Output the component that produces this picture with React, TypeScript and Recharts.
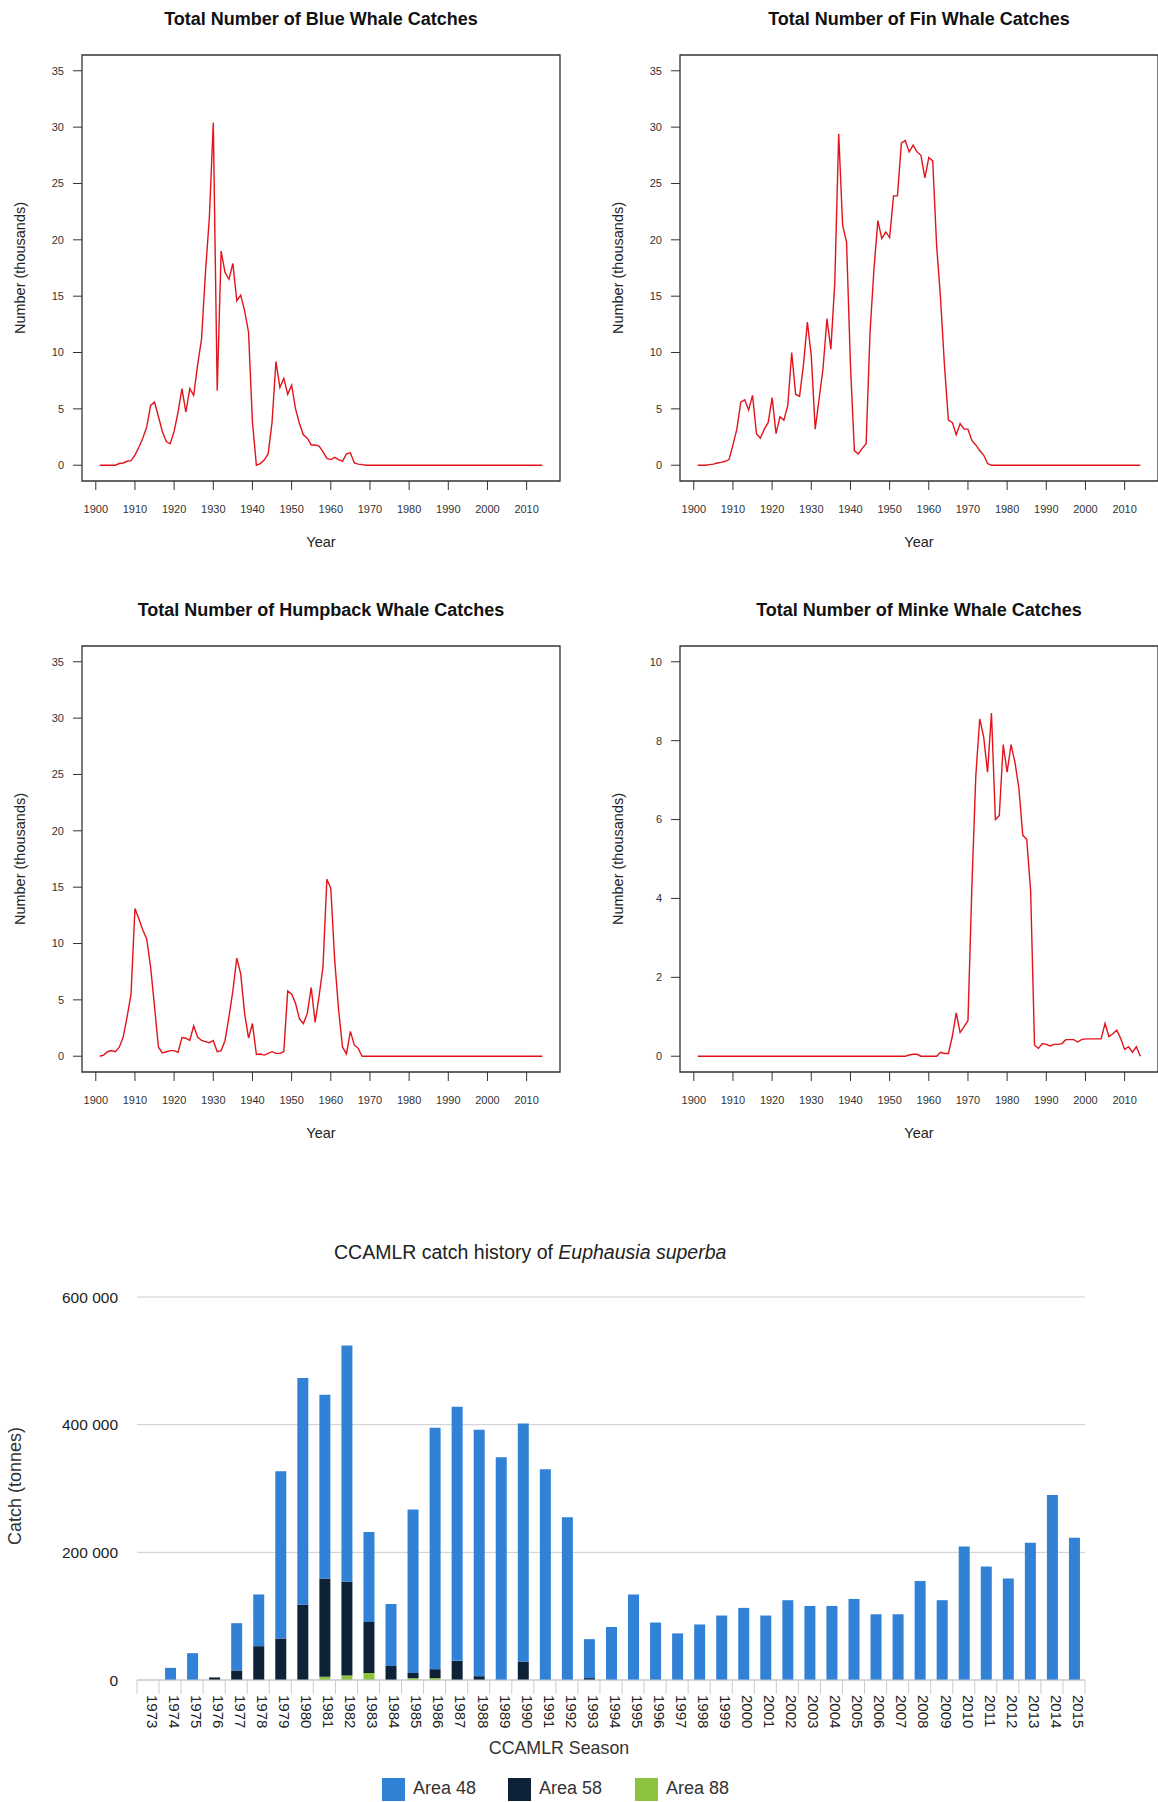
import { Bar, BarChart, CartesianGrid, Line, LineChart, ReferenceArea, XAxis, YAxis } from 'recharts'

// whale catches, thousands, one value per year starting 1901 (to 2014)
const FIRST_YEAR = 1901

const blueCatch = [
  0, 0, 0, 0, 0, 0.15, 0.2, 0.35, 0.4, 0.9,
  1.6, 2.4, 3.4, 5.3, 5.6, 4.3, 3.0, 2.1, 1.9, 3.0,
  4.7, 6.8, 4.7, 6.8, 6.2, 8.9, 11.2, 17.1, 22.0, 30.4,
  6.6, 19.0, 17.1, 16.5, 17.9, 14.6, 15.1, 13.7, 11.8, 3.8,
  0, 0.15, 0.45, 1.0, 3.8, 9.2, 6.9, 7.7, 6.3, 7.1,
  5.0, 3.7, 2.7, 2.4, 1.8, 1.8, 1.7, 1.2, 0.6, 0.5,
  0.7, 0.5, 0.35, 1.0, 1.1, 0.2, 0.1, 0.05, 0, 0,
  0, 0, 0, 0, 0, 0, 0, 0, 0, 0,
  0, 0, 0, 0, 0, 0, 0, 0, 0, 0,
  0, 0, 0, 0, 0, 0, 0, 0, 0, 0,
  0, 0, 0, 0, 0, 0, 0, 0, 0, 0,
  0, 0, 0, 0,
]

const finCatch = [
  0, 0, 0, 0.05, 0.1, 0.2, 0.25, 0.35, 0.5, 1.8,
  3.2, 5.6, 5.8, 4.9, 6.2, 2.8, 2.4, 3.2, 3.8, 6.0,
  2.8, 4.3, 4.0, 5.3, 10.0, 6.3, 6.1, 8.9, 12.7, 9.7,
  3.2, 5.9, 8.6, 13.0, 10.3, 16.2, 29.4, 21.3, 19.8, 8.9,
  1.3, 1.0, 1.5, 1.9, 11.8, 17.4, 21.7, 20.1, 20.7, 20.2,
  23.9, 23.9, 28.6, 28.8, 27.8, 28.4, 27.8, 27.5, 25.5, 27.3,
  27.0, 19.5, 14.8, 8.9, 4.0, 3.8, 2.7, 3.7, 3.2, 3.2,
  2.2, 1.8, 1.3, 0.9, 0.15, 0, 0, 0, 0, 0,
  0, 0, 0, 0, 0, 0, 0, 0, 0, 0,
  0, 0, 0, 0, 0, 0, 0, 0, 0, 0,
  0, 0, 0, 0, 0, 0, 0, 0, 0, 0,
  0, 0, 0, 0,
]

const humpbackCatch = [
  0, 0.1, 0.4, 0.5, 0.4, 0.8, 1.7, 3.5, 5.5, 13.1,
  12.2, 11.2, 10.4, 7.9, 4.4, 0.8, 0.3, 0.4, 0.5, 0.5,
  0.35, 1.65, 1.6, 1.4, 2.7, 1.7, 1.4, 1.3, 1.2, 1.4,
  0.4, 0.5, 1.4, 3.5, 5.8, 8.7, 7.3, 3.8, 1.6, 2.9,
  0.15, 0.2, 0.1, 0.25, 0.4, 0.25, 0.25, 0.4, 5.8, 5.5,
  4.7, 3.3, 2.9, 3.8, 6.1, 3.0, 5.3, 7.9, 15.7, 14.9,
  8.5, 4.1, 0.8, 0.2, 2.2, 1.0, 0.7, 0, 0, 0,
  0, 0, 0, 0, 0, 0, 0, 0, 0, 0,
  0, 0, 0, 0, 0, 0, 0, 0, 0, 0,
  0, 0, 0, 0, 0, 0, 0, 0, 0, 0,
  0, 0, 0, 0, 0, 0, 0, 0, 0, 0,
  0, 0, 0, 0,
]

const minkeCatch = [
  0, 0, 0, 0, 0, 0, 0, 0, 0, 0,
  0, 0, 0, 0, 0, 0, 0, 0, 0, 0,
  0, 0, 0, 0, 0, 0, 0, 0, 0, 0,
  0, 0, 0, 0, 0, 0, 0, 0, 0, 0,
  0, 0, 0, 0, 0, 0, 0, 0, 0, 0,
  0, 0, 0, 0, 0.03, 0.05, 0.05, 0, 0, 0,
  0, 0, 0.1, 0.07, 0.07, 0.5, 1.1, 0.6, 0.75, 0.9,
  4.3, 7.1, 8.55, 8.1, 7.2, 8.7, 6.0, 6.1, 7.9, 7.2,
  7.9, 7.45, 6.8, 5.6, 5.5, 4.2, 0.28, 0.2, 0.32, 0.3,
  0.26, 0.3, 0.3, 0.32, 0.42, 0.42, 0.42, 0.36, 0.42, 0.44,
  0.44, 0.44, 0.44, 0.44, 0.83, 0.5, 0.57, 0.66, 0.45, 0.17,
  0.24, 0.1, 0.24, 0,
]

const decadeTicks = [1900, 1910, 1920, 1930, 1940, 1950, 1960, 1970, 1980, 1990, 2000, 2010]
const bigYTicks = [0, 5, 10, 15, 20, 25, 30, 35]
const minkeYTicks = [0, 2, 4, 6, 8, 10]

// krill, tonnes per CCAMLR season
const seasons = [
  '1973', '1974', '1975', '1976', '1977', '1978', '1979', '1980', '1981', '1982',
  '1983', '1984', '1985', '1986', '1987', '1988', '1989', '1990', '1991', '1992',
  '1993', '1994', '1995', '1996', '1997', '1998', '1999', '2000', '2001', '2002',
  '2003', '2004', '2005', '2006', '2007', '2008', '2009', '2010', '2011', '2012',
  '2013', '2014', '2015',
]
const area48 = [
  0, 19000, 42000, 0, 74000, 81000, 262000, 355000, 288000, 370000,
  141000, 97000, 256000, 378000, 398000, 386000, 349000, 373000, 330000, 255000,
  61000, 83000, 134000, 90000, 73000, 87000, 101000, 113000, 101000, 125000,
  116000, 116000, 127000, 103000, 103000, 155000, 125000, 209000, 178000, 159000,
  215000, 290000, 223000,
]
const area58 = [
  0, 0, 0, 4000, 15000, 53000, 65000, 118000, 154000, 147000,
  80000, 22000, 8000, 14000, 30000, 6000, 0, 29000, 0, 0,
  3000, 0, 0, 0, 0, 0, 0, 0, 0, 0,
  0, 0, 0, 0, 0, 0, 0, 0, 0, 0,
  0, 0, 0,
]
const area88 = [
  0, 0, 0, 0, 0, 0, 0, 0, 5000, 7000,
  11000, 0, 3000, 3000, 0, 0, 0, 0, 0, 0,
  0, 0, 0, 0, 0, 0, 0, 0, 0, 0,
  0, 0, 0, 0, 0, 0, 0, 0, 0, 0,
  0, 0, 0,
]
const krillTicks = [0, 200000, 400000, 600000]

const RED = '#e3131b'
const FONT = '"Liberation Sans", Arial, sans-serif'

const toRows = (vals: number[]) => vals.map((v, i) => ({ year: FIRST_YEAR + i, v }))

const X_DOMAIN: [number, number] = [1896.48, 2018.52]

function WhalePanel({ title, values, yMax, ticks, left, top }: {
  title: string; values: number[]; yMax: number; ticks: number[]; left: number; top: number
}) {
  const pad = yMax * 0.04
  const yDomain: [number, number] = [-pad, yMax + pad]
  const txt = { position: 'absolute' as const, color: '#222', whiteSpace: 'nowrap' as const }
  return (
    <div style={{ position: 'absolute', left, top, width: 580, height: 580 }}>
      <LineChart width={580} height={580} data={toRows(values)} margin={{ top: 55, right: 20, left: 22, bottom: 59 }}>
        <XAxis
          type="number"
          dataKey="year"
          domain={X_DOMAIN}
          ticks={decadeTicks}
          allowDataOverflow
          axisLine={false}
          tickLine={{ stroke: '#333' }}
          tickSize={9}
          tickMargin={15}
          height={40}
          tick={{ fontSize: 11, fill: '#333' }}
        />
        <YAxis
          type="number"
          domain={yDomain}
          ticks={ticks}
          allowDataOverflow
          axisLine={false}
          tickLine={{ stroke: '#333' }}
          tickSize={9}
          tickMargin={9}
          width={60}
          tick={{ fontSize: 11, fill: '#333' }}
        />
        <ReferenceArea
          x1={X_DOMAIN[0]}
          x2={X_DOMAIN[1]}
          y1={yDomain[0]}
          y2={yDomain[1]}
          fill="none"
          stroke="#333"
          strokeWidth={1.3}
          ifOverflow="visible"
        />
        <Line type="linear" dataKey="v" stroke={RED} strokeWidth={1.4} dot={false} isAnimationActive={false} />
      </LineChart>
      <div style={{ ...txt, left: 121, width: 400, top: 9, textAlign: 'center', fontSize: 18, fontWeight: 700, color: '#111' }}>
        {title}
      </div>
      <div style={{ ...txt, left: 121, width: 400, top: 534, textAlign: 'center', fontSize: 14.5 }}>Year</div>
      <div
        style={{
          ...txt, left: 20 - 100, top: 268 - 10, width: 200, height: 20, lineHeight: '20px',
          textAlign: 'center', fontSize: 14.5, transform: 'rotate(-90deg)',
        }}
      >
        Number (thousands)
      </div>
    </div>
  )
}

const PLOT_LEFT = 137
const PLOT_RIGHT = 1085
const STEP = (PLOT_RIGHT - PLOT_LEFT) / seasons.length

function SeasonTick(props: any) {
  const { x, y, payload, index } = props
  const ty = y + 15
  return (
    <g>
      <line x1={x - STEP / 2} x2={x - STEP / 2} y1={y} y2={y + 14} stroke="#c8ccd2" />
      {index === seasons.length - 1 && (
        <line x1={x + STEP / 2} x2={x + STEP / 2} y1={y} y2={y + 14} stroke="#c8ccd2" />
      )}
      <text
        x={x}
        y={ty}
        dy="0.08em"
        transform={`rotate(90, ${x}, ${ty})`}
        textAnchor="start"
        fontSize={15}
        fill="#222"
        fontFamily={FONT}
      >
        {payload.value}
      </text>
    </g>
  )
}

const fmtSpace = (v: number) => String(v).replace(/\B(?=(\d{3})+(?!\d))/g, ' ')

function KrillChart() {
  const rows = seasons.map((s, i) => ({ season: s, a48: area48[i], a58: area58[i], a88: area88[i] }))
  const legend = [
    { name: 'Area 48', color: '#3181d7', x: 382 },
    { name: 'Area 58', color: '#0e2237', x: 508 },
    { name: 'Area 88', color: '#8cc43d', x: 635 },
  ]
  const txt = { position: 'absolute' as const, color: '#222', whiteSpace: 'nowrap' as const }
  return (
    <div style={{ position: 'absolute', left: 0, top: 1220, width: 1158, height: 582 }}>
      <BarChart
        width={1158}
        height={582}
        data={rows}
        margin={{ top: 77, right: 1158 - PLOT_RIGHT, left: 0, bottom: 72 }}
        barSize={11}
      >
        <CartesianGrid vertical={false} stroke="#cccccc" />
        <XAxis
          dataKey="season"
          interval={0}
          tickLine={false}
          tickSize={0}
          tickMargin={0}
          axisLine={{ stroke: '#c3c7cd' }}
          height={50}
          tick={<SeasonTick />}
        />
        <YAxis
          domain={[0, 600000]}
          ticks={krillTicks}
          axisLine={false}
          tickLine={false}
          tickSize={0}
          tickMargin={19}
          width={PLOT_LEFT}
          tickFormatter={fmtSpace}
          tick={{ fontSize: 15.5, fill: '#222' }}
        />
        <Bar dataKey="a88" stackId="k" fill="#8cc43d" isAnimationActive={false} />
        <Bar dataKey="a58" stackId="k" fill="#0e2237" isAnimationActive={false} />
        <Bar dataKey="a48" stackId="k" fill="#3181d7" isAnimationActive={false} />
      </BarChart>
      <div style={{ ...txt, left: 334, top: 20, fontSize: 19.5, lineHeight: '24px' }}>
        CCAMLR catch history of <i>Euphausia superba</i>
      </div>
      <div
        style={{
          ...txt, left: 15 - 100, top: 266 - 12, width: 200, height: 24, lineHeight: '24px',
          textAlign: 'center', fontSize: 18, transform: 'rotate(-90deg)', color: '#333',
        }}
      >
        Catch (tonnes)
      </div>
      <div style={{ ...txt, left: 459, width: 200, top: 516, textAlign: 'center', fontSize: 17.8, lineHeight: '24px', color: '#333' }}>
        CCAMLR Season
      </div>
      {legend.map((l) => (
        <div key={l.name}>
          <div style={{ position: 'absolute', left: l.x, top: 558, width: 23, height: 23, background: l.color }} />
          <div style={{ ...txt, left: l.x + 31, top: 556, fontSize: 18, lineHeight: '24px', color: '#333' }}>{l.name}</div>
        </div>
      ))}
    </div>
  )
}

export default function App() {
  return (
    <div
      style={{
        position: 'absolute', left: 0, top: 0, width: 1158, height: 1802, overflow: 'hidden',
        background: '#fff', fontFamily: FONT,
      }}
    >
      <WhalePanel title="Total Number of Blue Whale Catches" values={blueCatch} yMax={35} ticks={bigYTicks} left={0} top={0} />
      <WhalePanel title="Total Number of Fin Whale Catches" values={finCatch} yMax={35} ticks={bigYTicks} left={598} top={0} />
      <WhalePanel title="Total Number of Humpback Whale Catches" values={humpbackCatch} yMax={35} ticks={bigYTicks} left={0} top={591} />
      <WhalePanel title="Total Number of Minke Whale Catches" values={minkeCatch} yMax={10} ticks={minkeYTicks} left={598} top={591} />
      <KrillChart />
    </div>
  )
}
